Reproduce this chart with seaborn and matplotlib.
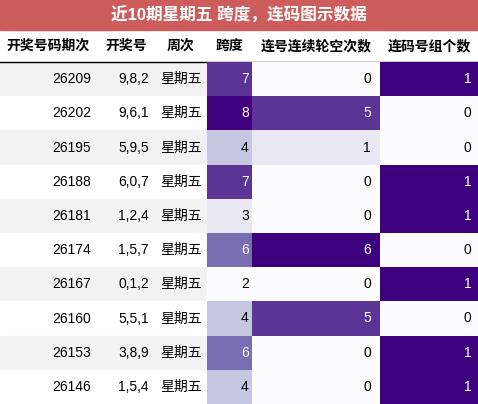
import matplotlib
matplotlib.use("Agg")
import matplotlib.pyplot as plt
import seaborn as sns
import numpy as np
import pandas as pd
from matplotlib.patches import Rectangle

title = "近10期星期五 跨度，连码图示数据"
headers = ["开奖号码期次", "开奖号", "周次", "跨度", "连号连续轮空次数", "连码号组个数"]
issues = ["26209", "26202", "26195", "26188", "26181", "26174", "26167", "26160", "26153", "26146"]
numbers = ["9,8,2", "9,6,1", "5,9,5", "6,0,7", "1,2,4", "1,5,7", "0,1,2", "5,5,1", "3,8,9", "1,5,4"]
weekday = ["星期五"] * 10
span = [7, 8, 4, 7, 3, 6, 2, 4, 6, 4]
gap = [0, 5, 1, 0, 0, 6, 0, 5, 0, 0]
groups = [1, 0, 0, 1, 1, 0, 1, 0, 1, 1]

FAM = ["Liberation Sans", "Noto Sans CJK SC"]
W, H = 478, 404
fig = plt.figure(figsize=(W / 100, H / 100), dpi=100)
bg = fig.add_axes([0, 0, 1, 1])
bg.set_xlim(0, W); bg.set_ylim(H, 0); bg.axis("off")

cols = [0, 97, 155, 207, 252, 380, 478]
top_title, top_head, top_rows = 0, 30, 62
rh = (H - top_rows) / 10

bg.add_patch(Rectangle((0, 0), W, 30, color="#cd5c5c"))
bg.text(W / 2, 15, title, ha="center", va="center", color="white", fontsize=12, weight="bold", family=FAM)
for i, h in enumerate(headers):
    bg.text((cols[i] + cols[i + 1]) / 2, 46, h, ha="center", va="center", fontsize=10, weight="bold", family=FAM)
bg.plot([0, W], [62, 62], color="black", lw=1)

for r in range(10):
    y = top_rows + r * rh
    bg.add_patch(Rectangle((0, y), W, rh, color="#f2f2f2" if r % 2 == 0 else "white", zorder=0))
    bg.text(cols[1] - 6, y + rh / 2, issues[r], ha="right", va="center", fontsize=10, family=FAM)
    bg.text(cols[2] - 6, y + rh / 2, numbers[r], ha="right", va="center", fontsize=10, family=FAM)
    bg.text((cols[2] + cols[3]) / 2, y + rh / 2, weekday[r], ha="center", va="center", fontsize=10, family=FAM)

for k, vals in zip([3, 4, 5], [span, gap, groups]):
    x0, x1 = cols[k], cols[k + 1]
    ax = fig.add_axes([x0 / W, 0, (x1 - x0) / W, (H - top_rows) / H])
    df = pd.DataFrame({"v": vals})
    vmin, vmax = min(vals), max(vals)
    sns.heatmap(df, ax=ax, cmap="Purples", vmin=vmin, vmax=vmax, cbar=False, annot=False,
                xticklabels=False, yticklabels=False)
    ax.axis("off")
    for r, v in enumerate(vals):
        frac = (v - vmin) / (vmax - vmin)
        ax.text(0.93, r + 0.5, str(v), ha="right", va="center", fontsize=10, family=FAM,
                color="white" if frac > 0.45 else "black")

fig.savefig("out.png", dpi=100)
